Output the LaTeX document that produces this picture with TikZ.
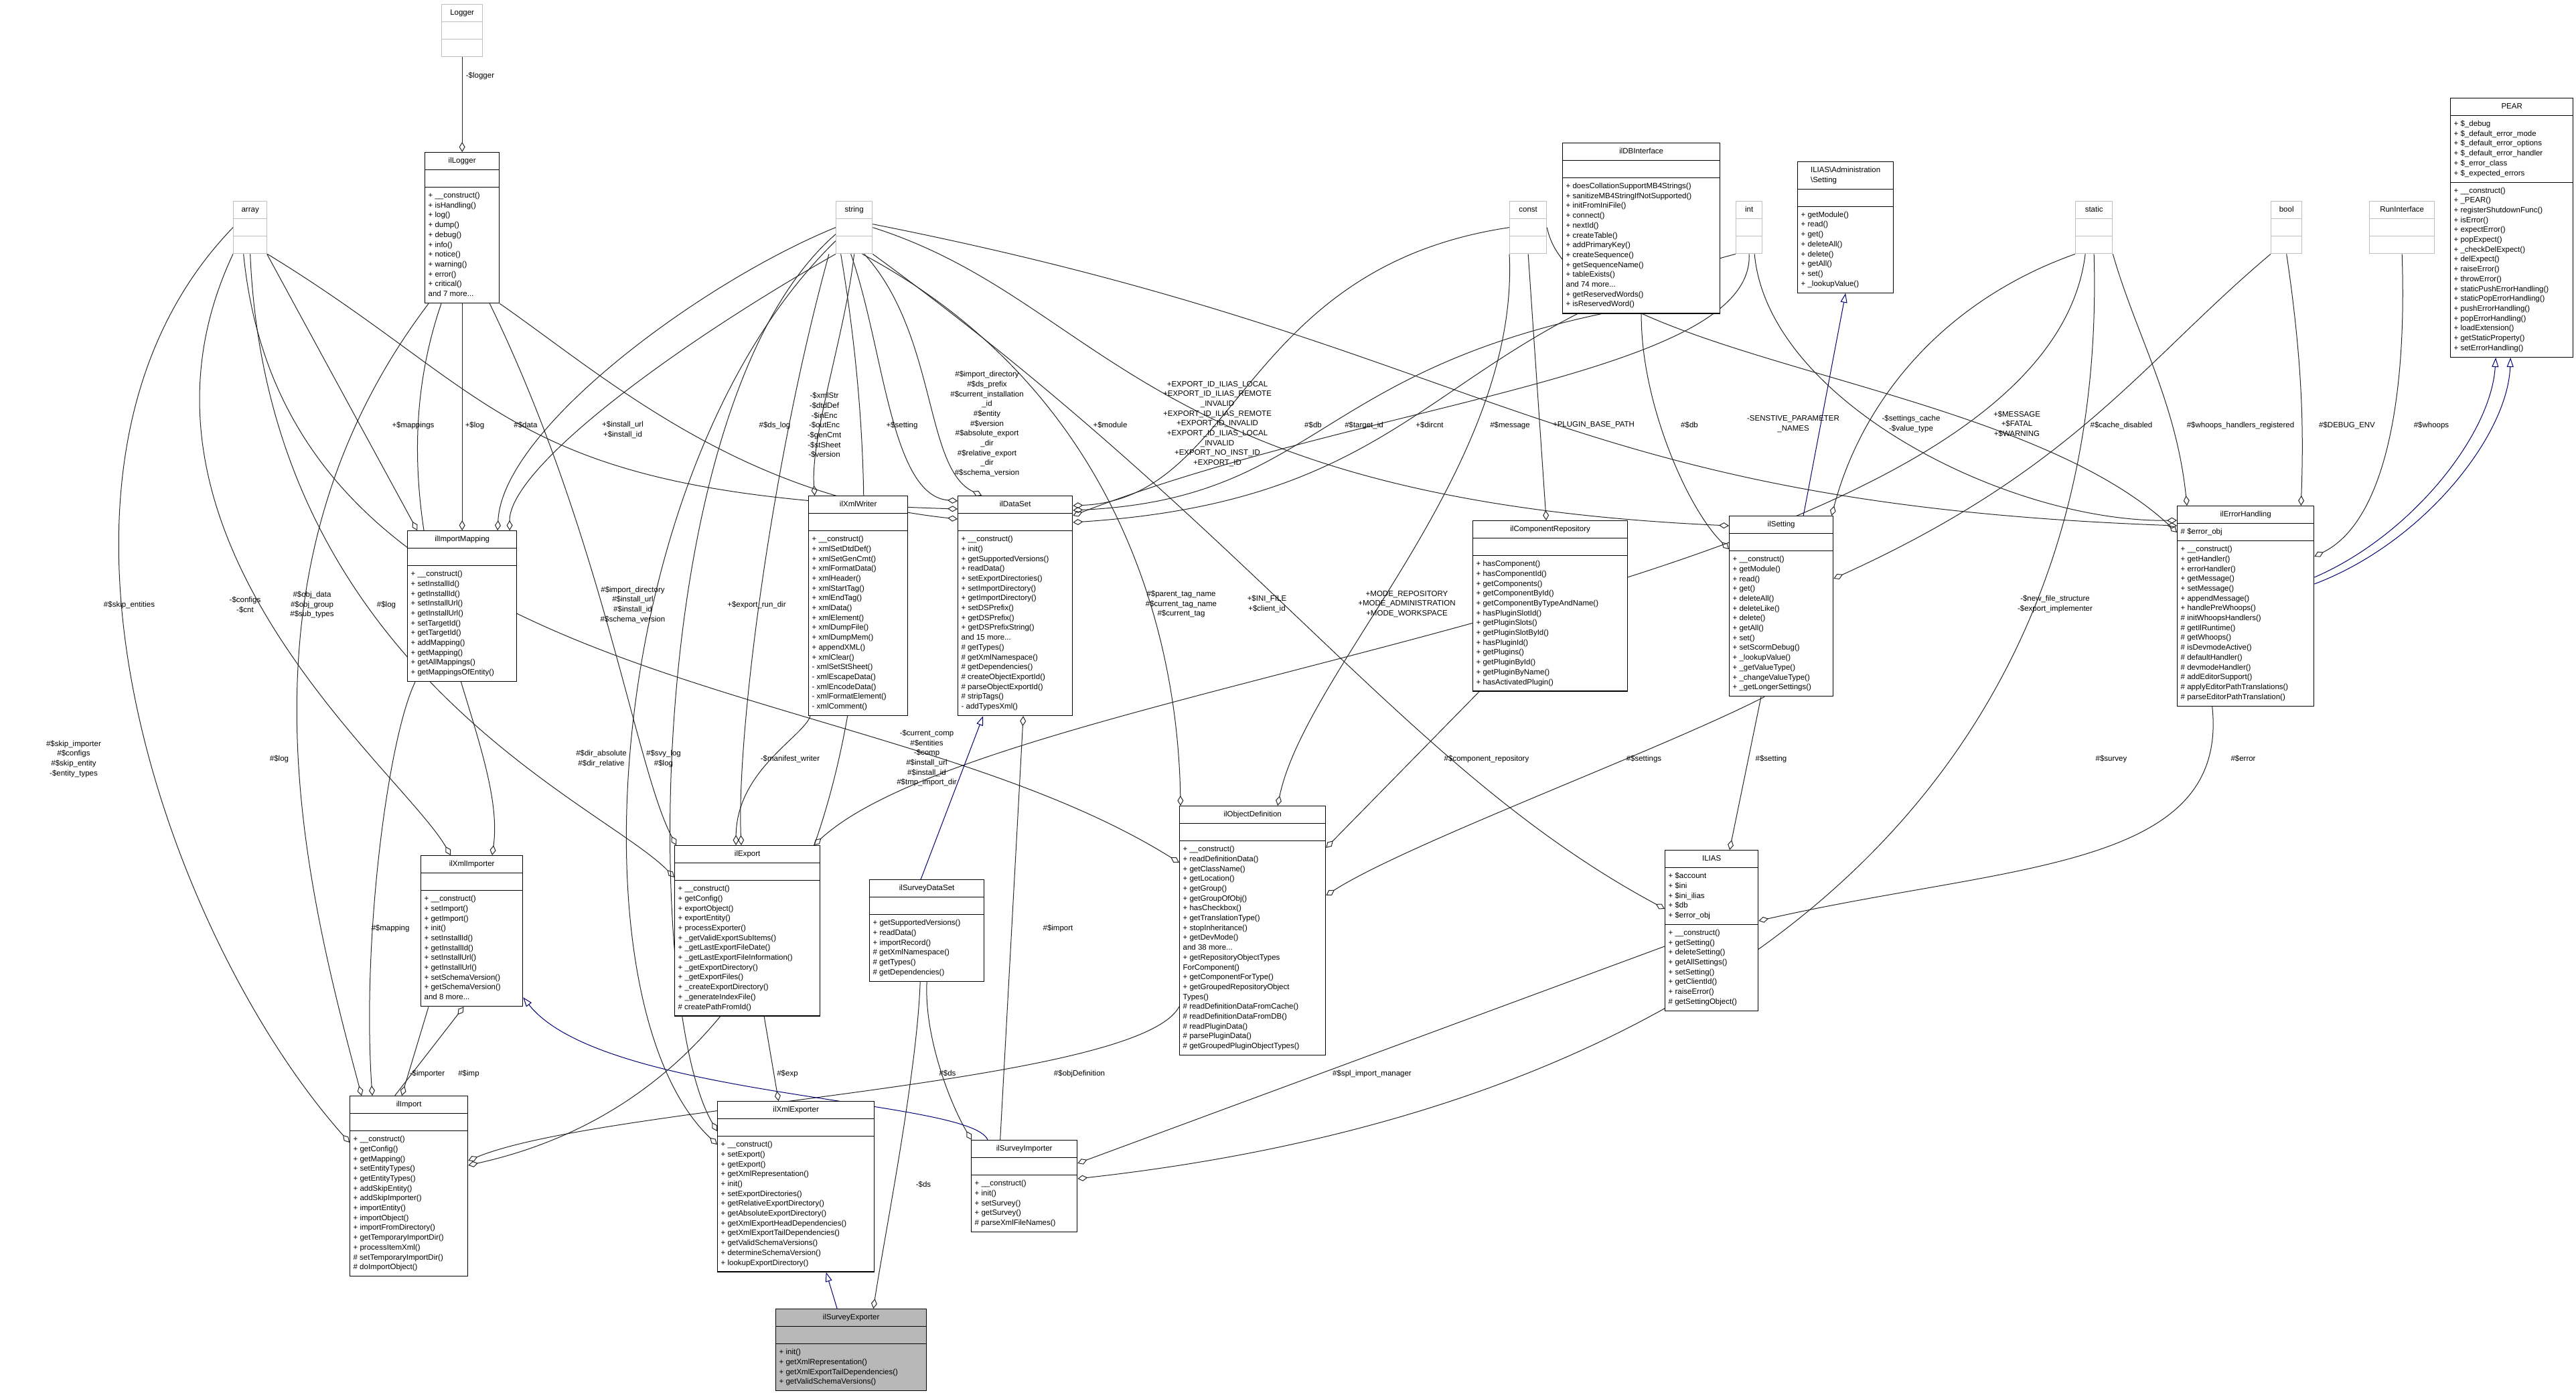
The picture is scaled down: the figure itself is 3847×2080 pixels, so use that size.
\documentclass[tikz,border=0pt]{standalone}
\usepackage{fontspec}
\usetikzlibrary{shapes.multipart, arrows.meta, backgrounds}
\newfontfamily\clsfamily{Liberation Sans}
\newcommand\clsfont{\clsfamily\fontsize{11.5}{14.7}\selectfont}
\tikzset{
  cls/.style={draw=black, fill=white, rectangle split, rectangle split parts=3,
    rectangle split part align={center,left,left}, anchor=north west,
    inner xsep=5pt, inner ysep=5pt, align=left, font=\clsfont, line width=1.3pt},
  ext/.style={cls, draw=black!25},
  cur/.style={cls, fill=black!28},
  agg/.style={-{Diamond[open,length=15pt,width=9pt]}, draw=black!85, line width=1pt},
  inh/.style={-{Triangle[open,length=14pt,width=10pt]}, draw=blue!45!black, line width=1pt},
  lbl/.style={font=\clsfont, align=center, inner sep=0pt},
}
\begin{document}
\begin{tikzpicture}[x=1pt, y=-1pt]
\useasboundingbox (0,0) rectangle (3847,2080);
% classes outside the module
\node[ext, minimum width=61pt] (Logger) at (659,6) {\strut Logger\nodepart{two}\strut\nodepart{three}\strut};
\node[ext, minimum width=50pt] (array) at (348,300) {\strut array\nodepart{two}\strut\nodepart{three}\strut};
\node[ext, minimum width=54pt] (string) at (1248,300) {\strut string\nodepart{two}\strut\nodepart{three}\strut};
\node[ext, minimum width=55pt] (const) at (2254,300) {\strut const\nodepart{two}\strut\nodepart{three}\strut};
\node[ext, minimum width=39pt] (int) at (2592,300) {\strut int\nodepart{two}\strut\nodepart{three}\strut};
\node[ext, minimum width=55pt] (static) at (3099,300) {\strut static\nodepart{two}\strut\nodepart{three}\strut};
\node[ext, minimum width=46pt] (bool) at (3391,300) {\strut bool\nodepart{two}\strut\nodepart{three}\strut};
\node[ext, minimum width=97pt] (RunInterface) at (3538,300) {\strut RunInterface\nodepart{two}\strut\nodepart{three}\strut};
% classes
\node[cls, minimum width=111pt] (ilLogger) at (634,227) {\strut ilLogger\nodepart{two}\strut\nodepart{three}\strut
+ \_\_construct()\\+ isHandling()\\+ log()\\+ dump()\\+ debug()\\+ info()\\+ notice()\\+ warning()\\+ error()\\+ critical()\\and 7 more...\strut};
\node[cls, minimum width=235pt] (ilDBInterface) at (2333,213) {\strut ilDBInterface\nodepart{two}\strut\nodepart{three}\strut
+ doesCollationSupportMB4Strings()\\+ sanitizeMB4StringIfNotSupported()\\+ initFromIniFile()\\+ connect()\\+ nextId()\\+ createTable()\\+ addPrimaryKey()\\+ createSequence()\\+ getSequenceName()\\+ tableExists()\\and 74 more...\\+ getReservedWords()\\+ isReservedWord()\strut};
\node[cls, minimum width=143pt] (IASetting) at (2684,241) {\strut ILIAS\textbackslash Administration\\\textbackslash Setting\strut\nodepart{two}\strut\nodepart{three}\strut
+ getModule()\\+ read()\\+ get()\\+ deleteAll()\\+ delete()\\+ getAll()\\+ set()\\+ \_lookupValue()\strut};
\node[cls, minimum width=183pt] (PEAR) at (3659,146) {\strut PEAR\nodepart{two}\strut
+ \$\_debug\\+ \$\_default\_error\_mode\\+ \$\_default\_error\_options\\+ \$\_default\_error\_handler\\+ \$\_error\_class\\+ \$\_expected\_errors\strut\nodepart{three}\strut
+ \_\_construct()\\+ \_PEAR()\\+ registerShutdownFunc()\\+ isError()\\+ expectError()\\+ popExpect()\\+ \_checkDelExpect()\\+ delExpect()\\+ raiseError()\\+ throwError()\\+ staticPushErrorHandling()\\+ staticPopErrorHandling()\\+ pushErrorHandling()\\+ popErrorHandling()\\+ loadExtension()\\+ getStaticProperty()\\+ setErrorHandling()\strut};
\node[cls, minimum width=163pt] (ilImportMapping) at (608,792) {\strut ilImportMapping\nodepart{two}\strut\nodepart{three}\strut
+ \_\_construct()\\+ setInstallId()\\+ getInstallId()\\+ setInstallUrl()\\+ getInstallUrl()\\+ setTargetId()\\+ getTargetId()\\+ addMapping()\\+ getMapping()\\+ getAllMappings()\\+ getMappingsOfEntity()\strut};
\node[cls, minimum width=148pt] (ilXmlWriter) at (1207,740) {\strut ilXmlWriter\nodepart{two}\strut\nodepart{three}\strut
+ \_\_construct()\\+ xmlSetDtdDef()\\+ xmlSetGenCmt()\\+ xmlFormatData()\\+ xmlHeader()\\+ xmlStartTag()\\+ xmlEndTag()\\+ xmlData()\\+ xmlElement()\\+ xmlDumpFile()\\+ xmlDumpMem()\\+ appendXML()\\+ xmlClear()\\- xmlSetStSheet()\\- xmlEscapeData()\\- xmlEncodeData()\\- xmlFormatElement()\\- xmlComment()\strut};
\node[cls, minimum width=171pt] (ilDataSet) at (1430,740) {\strut ilDataSet\nodepart{two}\strut\nodepart{three}\strut
+ \_\_construct()\\+ init()\\+ getSupportedVersions()\\+ readData()\\+ setExportDirectories()\\+ setImportDirectory()\\+ getImportDirectory()\\+ setDSPrefix()\\+ getDSPrefix()\\+ getDSPrefixString()\\and 15 more...\\\# getTypes()\\\# getXmlNamespace()\\\# getDependencies()\\\# createObjectExportId()\\\# parseObjectExportId()\\\# stripTags()\\- addTypesXml()\strut};
\node[cls, minimum width=231pt] (ilComponentRepository) at (2199,777) {\strut ilComponentRepository\nodepart{two}\strut\nodepart{three}\strut
+ hasComponent()\\+ hasComponentId()\\+ getComponents()\\+ getComponentById()\\+ getComponentByTypeAndName()\\+ hasPluginSlotId()\\+ getPluginSlots()\\+ getPluginSlotById()\\+ hasPluginId()\\+ getPlugins()\\+ getPluginById()\\+ getPluginByName()\\+ hasActivatedPlugin()\strut};
\node[cls, minimum width=155pt] (ilSetting) at (2582,770) {\strut ilSetting\nodepart{two}\strut\nodepart{three}\strut
+ \_\_construct()\\+ getModule()\\+ read()\\+ get()\\+ deleteAll()\\+ deleteLike()\\+ delete()\\+ getAll()\\+ set()\\+ setScormDebug()\\+ \_lookupValue()\\+ \_getValueType()\\+ \_changeValueType()\\+ \_getLongerSettings()\strut};
\node[cls, minimum width=204pt] (ilErrorHandling) at (3251,755) {\strut ilErrorHandling\nodepart{two}\strut\# \$error\_obj\nodepart{three}\strut
+ \_\_construct()\\+ getHandler()\\+ errorHandler()\\+ getMessage()\\+ setMessage()\\+ appendMessage()\\+ handlePreWhoops()\\\# initWhoopsHandlers()\\\# getIlRuntime()\\\# getWhoops()\\\# isDevmodeActive()\\\# defaultHandler()\\\# devmodeHandler()\\\# addEditorSupport()\\\# applyEditorPathTranslations()\\\# parseEditorPathTranslation()\strut};
\node[cls, minimum width=152pt] (ilXmlImporter) at (628,1277) {\strut ilXmlImporter\nodepart{two}\strut\nodepart{three}\strut
+ \_\_construct()\\+ setImport()\\+ getImport()\\+ init()\\+ setInstallId()\\+ getInstallId()\\+ setInstallUrl()\\+ getInstallUrl()\\+ setSchemaVersion()\\+ getSchemaVersion()\\and 8 more...\strut};
\node[cls, minimum width=217pt] (ilExport) at (1007,1262) {\strut ilExport\nodepart{two}\strut\nodepart{three}\strut
+ \_\_construct()\\+ getConfig()\\+ exportObject()\\+ exportEntity()\\+ processExporter()\\+ \_getValidExportSubItems()\\+ \_getLastExportFileDate()\\+ \_getLastExportFileInformation()\\+ \_getExportDirectory()\\+ \_getExportFiles()\\+ \_createExportDirectory()\\+ \_generateIndexFile()\\\# createPathFromId()\strut};
\node[cls, minimum width=171pt] (ilSurveyDataSet) at (1298,1313) {\strut ilSurveyDataSet\nodepart{two}\strut\nodepart{three}\strut
+ getSupportedVersions()\\+ readData()\\+ importRecord()\\\# getXmlNamespace()\\\# getTypes()\\\# getDependencies()\strut};
\node[cls, minimum width=218pt] (ilObjectDefinition) at (1761,1203) {\strut ilObjectDefinition\nodepart{two}\strut\nodepart{three}\strut
+ \_\_construct()\\+ readDefinitionData()\\+ getClassName()\\+ getLocation()\\+ getGroup()\\+ getGroupOfObj()\\+ hasCheckbox()\\+ getTranslationType()\\+ stopInheritance()\\+ getDevMode()\\and 38 more...\\+ getRepositoryObjectTypes\\ForComponent()\\+ getComponentForType()\\+ getGroupedRepositoryObject\\Types()\\\# readDefinitionDataFromCache()\\\# readDefinitionDataFromDB()\\\# readPluginData()\\\# parsePluginData()\\\# getGroupedPluginObjectTypes()\strut};
\node[cls, minimum width=139pt] (ILIAS) at (2486,1269) {\strut ILIAS\nodepart{two}\strut
+ \$account\\+ \$ini\\+ \$ini\_ilias\\+ \$db\\+ \$error\_obj\strut\nodepart{three}\strut
+ \_\_construct()\\+ getSetting()\\+ deleteSetting()\\+ getAllSettings()\\+ setSetting()\\+ getClientId()\\+ raiseError()\\\# getSettingObject()\strut};
\node[cls, minimum width=176pt] (ilImport) at (522,1636) {\strut ilImport\nodepart{two}\strut\nodepart{three}\strut
+ \_\_construct()\\+ getConfig()\\+ getMapping()\\+ setEntityTypes()\\+ getEntityTypes()\\+ addSkipEntity()\\+ addSkipImporter()\\+ importEntity()\\+ importObject()\\+ importFromDirectory()\\+ getTemporaryImportDir()\\+ processItemXml()\\\# setTemporaryImportDir()\\\# doImportObject()\strut};
\node[cls, minimum width=234pt] (ilXmlExporter) at (1071,1644) {\strut ilXmlExporter\nodepart{two}\strut\nodepart{three}\strut
+ \_\_construct()\\+ setExport()\\+ getExport()\\+ getXmlRepresentation()\\+ init()\\+ setExportDirectories()\\+ getRelativeExportDirectory()\\+ getAbsoluteExportDirectory()\\+ getXmlExportHeadDependencies()\\+ getXmlExportTailDependencies()\\+ getValidSchemaVersions()\\+ determineSchemaVersion()\\+ lookupExportDirectory()\strut};
\node[cls, minimum width=158pt] (ilSurveyImporter) at (1450,1702) {\strut ilSurveyImporter\nodepart{two}\strut\nodepart{three}\strut
+ \_\_construct()\\+ init()\\+ setSurvey()\\+ getSurvey()\\\# parseXmlFileNames()\strut};
\node[cur, minimum width=225pt] (ilSurveyExporter) at (1158,1954) {\strut ilSurveyExporter\nodepart{two}\strut\nodepart{three}\strut
+ init()\\+ getXmlRepresentation()\\+ getXmlExportTailDependencies()\\+ getValidSchemaVersions()\strut};
% member labels
\node[lbl] (lLogger) at (717,113) {-\$logger};
\node[lbl] (lLog1) at (709,635) {+\$log};
\node[lbl] (lMappings) at (617,635) {+\$mappings};
\node[lbl] (lData) at (785,635) {\#\$data};
\node[lbl] (lInstall) at (930,642) {+\$install\_url\\+\$install\_id};
\node[lbl] (lDsLog) at (1157,635) {\#\$ds\_log};
\node[lbl] (lXmlStr) at (1231,635) {-\$xmlStr\\-\$dtdDef\\-\$inEnc\\-\$outEnc\\-\$genCmt\\-\$stSheet\\-\$version};
\node[lbl] (lSetting) at (1347,635) {+\$setting};
\node[lbl] (lImpDir) at (1474,633) {\#\$import\_directory\\\#\$ds\_prefix\\\#\$current\_installation\\\_id\\\#\$entity\\\#\$version\\\#\$absolute\_export\\\_dir\\\#\$relative\_export\\\_dir\\\#\$schema\_version};
\node[lbl] (lModule) at (1658,635) {+\$module};
\node[lbl] (lExportId) at (1818,633) {+EXPORT\_ID\_ILIAS\_LOCAL\\+EXPORT\_ID\_ILIAS\_REMOTE\\\_INVALID\\+EXPORT\_ID\_ILIAS\_REMOTE\\+EXPORT\_ID\_INVALID\\+EXPORT\_ID\_ILIAS\_LOCAL\\\_INVALID\\+EXPORT\_NO\_INST\_ID\\+EXPORT\_ID};
\node[lbl] (lDb1) at (1961,635) {\#\$db};
\node[lbl] (lTarget) at (2037,635) {\#\$target\_id};
\node[lbl] (lDircnt) at (2135,635) {+\$dircnt};
\node[lbl] (lMessage) at (2255,635) {\#\$message};
\node[lbl] (lPlugin) at (2380,635) {+PLUGIN\_BASE\_PATH};
\node[lbl] (lDb2) at (2523,635) {\#\$db};
\node[lbl] (lSensitive) at (2678,633) {-SENSTIVE\_PARAMETER\\\_NAMES};
\node[lbl] (lCache) at (2854,633) {-\$settings\_cache\\-\$value\_type};
\node[lbl] (lFatal) at (3012,633) {+\$MESSAGE\\+\$FATAL\\+\$WARNING};
\node[lbl] (lDisabled) at (3168,635) {\#\$cache\_disabled};
\node[lbl] (lWhoopsReg) at (3346,635) {\#\$whoops\_handlers\_registered};
\node[lbl] (lDebug) at (3505,635) {\#\$DEBUG\_ENV};
\node[lbl] (lWhoops) at (3631,635) {\#\$whoops};
\node[lbl] (lNewFile) at (3069,902) {-\$new\_file\_structure\\-\$export\_implementer};
\node[lbl] (lSkipEnt) at (193,903) {\#\$skip\_entities};
\node[lbl] (lConfigs) at (366,903) {-\$configs\\-\$cnt};
\node[lbl] (lObjData) at (466,903) {\#\$obj\_data\\\#\$obj\_group\\\#\$sub\_types};
\node[lbl] (lLog2) at (577,903) {\#\$log};
\node[lbl] (lImpDir2) at (945,903) {\#\$import\_directory\\\#\$install\_url\\\#\$install\_id\\\#\$schema\_version};
\node[lbl] (lRunDir) at (1130,903) {+\$export\_run\_dir};
\node[lbl] (lParent) at (1764,902) {\#\$parent\_tag\_name\\\#\$current\_tag\_name\\\#\$current\_tag};
\node[lbl] (lIni) at (1892,902) {+\$INI\_FILE\\+\$client\_id};
\node[lbl] (lMode) at (2101,902) {+MODE\_REPOSITORY\\+MODE\_ADMINISTRATION\\+MODE\_WORKSPACE};
\node[lbl] (lSkipImp) at (110,1133) {\#\$skip\_importer\\\#\$configs\\\#\$skip\_entity\\-\$entity\_types};
\node[lbl] (lLog3) at (417,1133) {\#\$log};
\node[lbl] (lDirAbs) at (898,1133) {\#\$dir\_absolute\\\#\$dir\_relative};
\node[lbl] (lSvyLog) at (991,1133) {\#\$svy\_log\\\#\$log};
\node[lbl] (lManifest) at (1180,1133) {-\$manifest\_writer};
\node[lbl] (lComp) at (1384,1132) {-\$current\_comp\\\#\$entities\\-\$comp\\\#\$install\_url\\\#\$install\_id\\\#\$tmp\_import\_dir};
\node[lbl] (lCompRepo) at (2220,1133) {\#\$component\_repository};
\node[lbl] (lSettings) at (2455,1133) {\#\$settings};
\node[lbl] (lSetting2) at (2645,1133) {\#\$setting};
\node[lbl] (lSurvey) at (3153,1133) {\#\$survey};
\node[lbl] (lError) at (3350,1133) {\#\$error};
\node[lbl] (lImport) at (1580,1386) {\#\$import};
\node[lbl] (lMapping) at (583,1386) {\#\$mapping};
\node[lbl] (lImporter) at (638,1603) {-\$importer};
\node[lbl] (lImp) at (700,1603) {\#\$imp};
\node[lbl] (lExp) at (1176,1603) {\#\$exp};
\node[lbl] (lDs) at (1415,1603) {\#\$ds};
\node[lbl] (lObjDef) at (1612,1603) {\#\$objDefinition};
\node[lbl] (lSpl) at (2049,1603) {\#\$spl\_import\_manager};
\node[lbl] (lDs2) at (1379,1769) {-\$ds};
% connectors
\begin{scope}[on background layer]
\draw[agg] (Logger.south) -- (ilLogger.north);
\draw[agg] (ilLogger.south) -- (ilImportMapping.north);
\draw[agg] ([xshift=25pt]array.south) -- ([xshift=-67pt]ilImportMapping.north);
\draw[agg] (string.south west) .. controls (1000,520) and (760,700) .. ([xshift=71pt]ilImportMapping.north);
\draw[agg] (string.west) .. controls (1050,420) and (750,640) .. ([xshift=53pt]ilImportMapping.north);
\draw[agg] (array.south east) .. controls (760,600) and (760,740) .. ([yshift=-20pt]ilDataSet.north west);
\draw[agg] (ilLogger.south east) .. controls (900,560) and (1100,740) .. ([yshift=-35pt]ilDataSet.north west);
\draw[agg] (string.south) .. controls (1262,500) and (1210,650) .. ([xshift=-65pt]ilXmlWriter.north);
\draw[agg] ([xshift=15pt]string.south) .. controls (1400,500) and (1380,700) .. ([xshift=-50pt]ilDataSet.north);
\draw[agg] ([xshift=-5pt]string.south) .. controls (1320,520) and (1330,740) .. ([yshift=-8pt]ilDataSet.north west);
\draw[agg] (string.east) .. controls (1650,450) and (1700,745) .. ([yshift=-15pt]ilSetting.north west);
\draw[agg] (const.west) .. controls (1850,400) and (1850,745) .. ([yshift=-15pt]ilDataSet.north east);
\draw[agg] ([xshift=-60pt]ilDBInterface.south) .. controls (1960,560) and (1960,745) .. ([yshift=-22pt]ilDataSet.north east);
\draw[agg] (int.south) .. controls (2620,560) and (2040,600) .. ([yshift=-30pt]ilDataSet.north east);
\draw[agg] (int.south west) .. controls (2135,500) and (2135,745) .. ([yshift=-40pt]ilDataSet.north east);
\draw[agg] ([yshift=5pt]string.east) .. controls (2240,520) and (2300,750) .. ([yshift=-30pt]ilErrorHandling.north west);
\draw[agg] (const.south) -- ([xshift=-6pt]ilComponentRepository.north);
\draw[agg] (ilDBInterface.south) .. controls (2450,600) and (2520,760) .. ([yshift=-50pt]ilSetting.north west);
\draw[inh] ([xshift=33pt]ilSetting.north) -- (IASetting.south);
\draw[agg] ([xshift=8pt]int.south) .. controls (2640,600) and (3000,780) .. ([yshift=-22pt]ilErrorHandling.north west);
\draw[agg] (static.south west) .. controls (2900,450) and (2780,600) .. ([xshift=-3pt]ilSetting.north east);
\draw[agg] (const.east) .. controls (2350,540) and (3000,560) .. ([yshift=-40pt]ilErrorHandling.north west);
\draw[agg] (bool.south west) .. controls (3200,540) and (3100,700) .. ([yshift=-94pt]ilSetting.north east);
\draw[agg] (static.south east) .. controls (3190,500) and (3250,600) .. ([xshift=15pt]ilErrorHandling.north west);
\draw[agg] (bool.south) .. controls (3440,550) and (3440,650) .. ([xshift=-20pt]ilErrorHandling.north east);
\draw[agg] (RunInterface.south) .. controls (3595,600) and (3560,780) .. ([yshift=-76pt]ilErrorHandling.north east);
\draw[inh] ([yshift=-107pt]ilErrorHandling.north east) .. controls (3600,800) and (3720,650) .. ([xshift=-24pt]PEAR.south);
\draw[inh] ([yshift=-117pt]ilErrorHandling.north east) .. controls (3620,810) and (3745,650) .. ([xshift=-2pt]PEAR.south);
\draw[agg] ([xshift=-13pt]static.south) .. controls (3050,900) and (1500,1000) .. ([xshift=-10pt]ilExport.north east);
\draw[agg] (static.south) .. controls (3150,1150) and (2600,1650) .. ([yshift=-58pt]ilSurveyImporter.north east);
\draw[agg] ([xshift=-50pt]ilErrorHandling.south) .. controls (3330,1300) and (3000,1290) .. ([yshift=-106pt]ILIAS.north east);
\draw[agg] ([xshift=-25pt]ilSetting.south) .. controls (2480,1120) and (2100,1260) .. ([yshift=-134pt]ilObjectDefinition.north east);
\draw[agg] ([xshift=10pt]ilComponentRepository.south west) -- ([yshift=-63pt]ilObjectDefinition.north east);
\draw[agg] ([xshift=48pt]ilSetting.south west) -- ([xshift=97pt]ILIAS.north west);
\draw[agg] ([yshift=-144pt]ILIAS.north west) -- ([yshift=-35pt]ilSurveyImporter.north east);
\draw[agg] (string.south east) .. controls (1880,800) and (2100,1150) .. ([yshift=-88pt]ILIAS.north west);
\draw[agg] ([xshift=12pt]string.south) .. controls (1700,600) and (1760,1000) .. ([xshift=2pt]ilObjectDefinition.north west);
\draw[agg] (const.south west) .. controls (2270,700) and (1950,1000) .. ([xshift=147pt]ilObjectDefinition.north west);
\draw[agg] ([xshift=-10pt]array.south) .. controls (430,1050) and (1300,1000) .. ([yshift=-85pt]ilObjectDefinition.north west);
\draw[agg] ([yshift=-300pt]ilObjectDefinition.north west) .. controls (1700,1620) and (900,1650) .. ([yshift=-97pt]ilImport.north east);
\draw[agg] (ilSurveyDataSet.south) .. controls (1380,1550) and (1420,1650) .. ([xshift=1pt]ilSurveyImporter.north west);
\draw[agg] ([xshift=-36pt]ilSurveyImporter.north) -- ([xshift=12pt]ilDataSet.south);
\draw[inh] ([xshift=-9pt]ilSurveyDataSet.north) -- ([xshift=-48pt]ilDataSet.south);
\draw[agg] ([xshift=-10pt]ilSurveyDataSet.south) .. controls (1370,1600) and (1320,1850) .. ([xshift=-80pt]ilSurveyExporter.north east);
\draw[inh] ([xshift=-21pt]ilSurveyExporter.north) -- ([xshift=45pt]ilXmlExporter.south);
\draw[agg] ([xshift=25pt]ilExport.south) -- ([xshift=-26pt]ilXmlExporter.north);
\draw[inh] ([xshift=25pt]ilSurveyImporter.north west) .. controls (1450,1640) and (900,1640) .. ([yshift=14pt]ilXmlImporter.south east);
\draw[agg] ([xshift=-20pt]string.south) .. controls (1360,1000) and (1240,1620) .. ([yshift=-104pt]ilImport.north east);
\draw[agg] (array.west) .. controls (0,700) and (250,1400) .. ([yshift=-70pt]ilImport.north west);
\draw[agg] ([xshift=6pt]ilLogger.south west) .. controls (340,850) and (450,1300) .. ([xshift=18pt]ilImport.north west);
\draw[agg] ([xshift=12pt]ilImportMapping.south west) .. controls (580,1100) and (540,1400) .. ([xshift=34pt]ilImport.north west);
\draw[agg] ([xshift=12pt]ilXmlImporter.south west) -- ([xshift=78pt]ilImport.north west);
\draw[agg] ([xshift=-21pt]ilImport.north) -- ([xshift=-12pt]ilXmlImporter.south);
\draw[agg] (array.south west) .. controls (150,800) and (600,1150) .. ([xshift=45pt]ilXmlImporter.north west);
\draw[agg] ([xshift=25pt]ilLogger.south west) .. controls (540,800) and (760,1100) .. ([xshift=107pt]ilXmlImporter.north west);
\draw[agg] (array.south) .. controls (400,1000) and (900,1200) .. ([yshift=-48pt]ilExport.north west);
\draw[agg] ([xshift=-10pt]string.south west) .. controls (1150,700) and (1100,1100) .. ([xshift=100pt]ilExport.north west);
\draw[agg] ([xshift=-15pt]ilLogger.south east) .. controls (900,800) and (950,1150) .. ([xshift=3pt]ilExport.north west);
\draw[agg] ([xshift=3pt]ilXmlWriter.south west) .. controls (1200,1100) and (1100,1150) .. ([xshift=92pt]ilExport.north west);
\draw[agg] ([yshift=-20pt]string.west) .. controls (900,700) and (850,1500) .. ([yshift=-65pt]ilXmlExporter.north west);
\draw[agg] ([yshift=-10pt]string.west) .. controls (960,600) and (960,1500) .. ([yshift=-45pt]ilXmlExporter.north west);
\end{scope}
\end{tikzpicture}
\end{document}
